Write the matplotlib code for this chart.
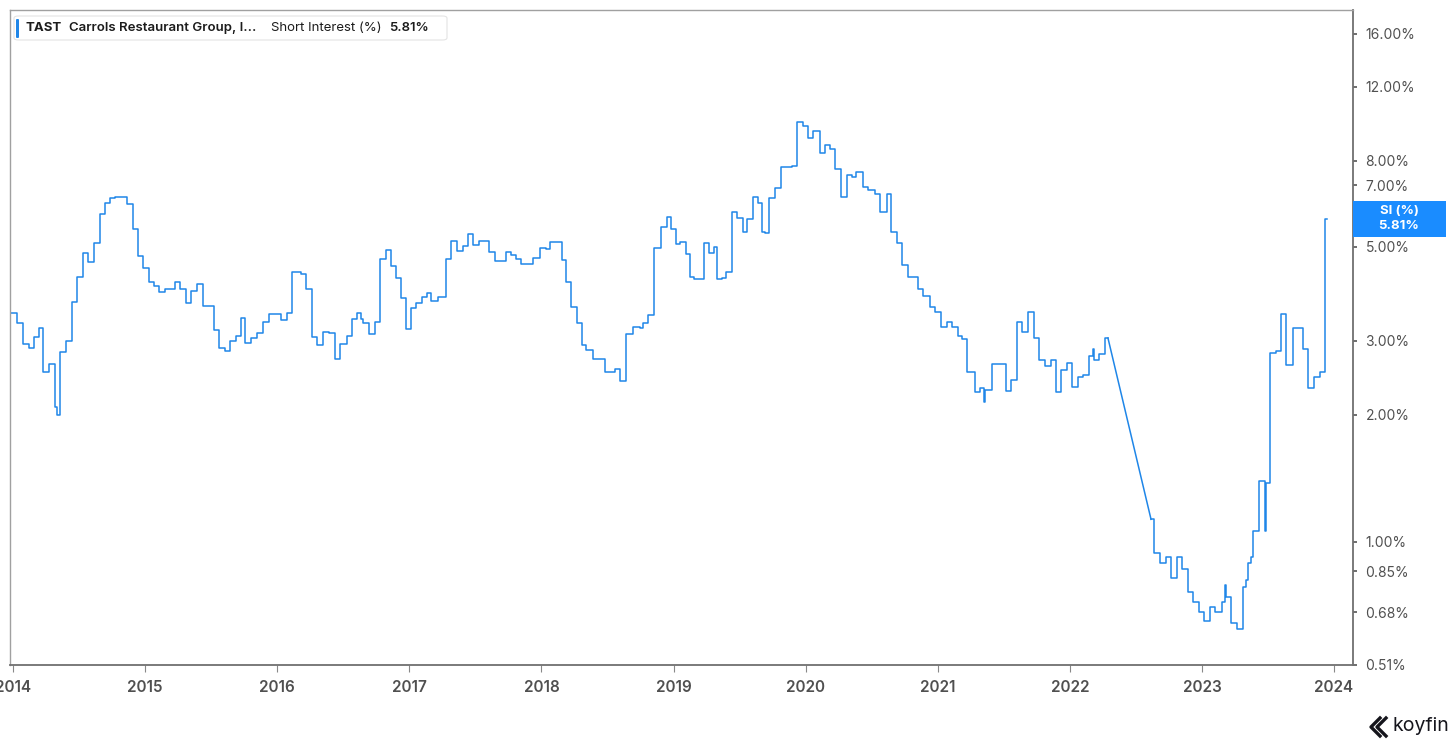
import matplotlib.pyplot as plt
from matplotlib.lines import Line2D
from matplotlib.patches import FancyBboxPatch, Rectangle
from matplotlib.ticker import NullLocator

plt.rcParams['font.family'] = ['Inter', 'DejaVu Sans']

# short interest (% of float); x in decimal years
years_a = [
    2013.985, 2014.030, 2014.076, 2014.121, 2014.159, 2014.197, 2014.227, 2014.273,
    2014.318, 2014.333, 2014.356, 2014.401, 2014.447, 2014.484, 2014.530, 2014.568,
    2014.613, 2014.659, 2014.696, 2014.734, 2014.772, 2014.863, 2014.908, 2014.946,
    2014.984, 2015.030, 2015.067, 2015.105, 2015.151, 2015.226, 2015.264, 2015.310,
    2015.347, 2015.393, 2015.438, 2015.522, 2015.559, 2015.605, 2015.643, 2015.688,
    2015.726, 2015.756, 2015.802, 2015.847, 2015.893, 2015.938, 2016.029, 2016.074,
    2016.112, 2016.180, 2016.218, 2016.263, 2016.301, 2016.347, 2016.392, 2016.438,
    2016.475, 2016.528, 2016.566, 2016.604, 2016.634, 2016.650, 2016.695, 2016.740,
    2016.778, 2016.824, 2016.861, 2016.899, 2016.937, 2016.975, 2017.013, 2017.051,
    2017.096, 2017.134, 2017.164, 2017.217, 2017.278, 2017.316, 2017.361, 2017.407,
    2017.444, 2017.482, 2017.528, 2017.603, 2017.649, 2017.732, 2017.770, 2017.808,
    2017.846, 2017.936, 2017.989, 2018.035, 2018.065, 2018.156, 2018.186, 2018.224,
    2018.269, 2018.307, 2018.338, 2018.391, 2018.481, 2018.527, 2018.557, 2018.595,
    2018.640, 2018.693, 2018.746, 2018.769, 2018.807, 2018.852, 2018.905, 2018.951,
    2018.981, 2019.019, 2019.049, 2019.095, 2019.125, 2019.155, 2019.231, 2019.269,
    2019.307, 2019.329, 2019.367, 2019.397, 2019.443, 2019.481, 2019.526, 2019.556,
    2019.602, 2019.640, 2019.670, 2019.693, 2019.723, 2019.768, 2019.814, 2019.897,
    2019.935, 2019.980, 2020.018, 2020.056, 2020.109, 2020.147, 2020.185, 2020.222,
    2020.268, 2020.313, 2020.351, 2020.382, 2020.435, 2020.472, 2020.525, 2020.563,
    2020.616, 2020.646, 2020.692, 2020.730, 2020.775, 2020.851, 2020.889, 2020.942,
    2020.980, 2021.025, 2021.070, 2021.108, 2021.154, 2021.184, 2021.222, 2021.283,
    2021.320, 2021.350, 2021.358, 2021.411, 2021.517, 2021.555, 2021.600, 2021.638,
    2021.684, 2021.729, 2021.767, 2021.812, 2021.858, 2021.895, 2021.933, 2021.979,
    2022.017, 2022.062, 2022.100, 2022.145, 2022.176, 2022.183, 2022.223, 2022.268,
    2022.289,
]
si_a = [
    3.49, 3.31, 2.95, 2.88, 3.06, 3.22, 2.53, 2.64,
    2.09, 2.00, 2.82, 3.00, 3.71, 4.25, 4.84, 4.61,
    5.11, 5.99, 6.36, 6.54, 6.57, 6.33, 5.52, 4.76,
    4.46, 4.13, 4.04, 3.91, 3.98, 4.13, 3.98, 3.69,
    3.94, 4.09, 3.63, 3.18, 2.88, 2.84, 3.00, 3.08,
    3.40, 2.96, 3.04, 3.13, 3.32, 3.47, 3.36, 3.49,
    4.37, 4.32, 3.98, 3.06, 2.93, 3.15, 3.13, 2.71,
    2.95, 3.08, 3.38, 3.49, 3.38, 3.31, 3.11, 3.32,
    4.69, 4.92, 4.51, 4.22, 3.79, 3.20, 3.59, 3.69,
    3.81, 3.89, 3.73, 3.81, 4.69, 5.17, 4.89, 5.03,
    5.37, 5.06, 5.17, 4.87, 4.63, 4.87, 4.79, 4.69,
    4.56, 4.71, 4.98, 4.95, 5.14, 4.66, 4.13, 3.60,
    3.31, 2.93, 2.85, 2.71, 2.53, 2.52, 2.57, 2.40,
    3.11, 3.23, 3.22, 3.31, 3.45, 4.98, 5.58, 5.89,
    5.52, 5.09, 5.14, 4.81, 4.25, 4.20, 5.11, 4.84,
    5.00, 4.20, 4.22, 4.37, 6.06, 5.86, 5.43, 5.82,
    6.57, 6.36, 5.43, 5.40, 6.54, 6.90, 7.74, 7.78,
    9.90, 9.68, 9.07, 9.42, 8.36, 8.73, 8.54, 7.66,
    6.57, 7.41, 7.33, 7.53, 6.94, 6.83, 6.68, 6.06,
    6.68, 5.43, 5.11, 4.53, 4.25, 3.98, 3.83, 3.60,
    3.51, 3.23, 3.32, 3.23, 3.08, 3.03, 2.53, 2.27,
    2.32, 2.15, 2.29, 2.64, 2.28, 2.42, 3.32, 3.15,
    3.51, 3.04, 2.69, 2.61, 2.70, 2.26, 2.56, 2.66,
    2.33, 2.46, 2.49, 2.76, 2.87, 2.70, 2.79, 3.04,
    3.04,
]
years_b = [
    2022.615, 2022.637, 2022.683, 2022.728, 2022.766, 2022.812, 2022.849, 2022.895,
    2022.933, 2022.978, 2023.016, 2023.061, 2023.099, 2023.152, 2023.175, 2023.182,
    2023.220, 2023.265, 2023.311, 2023.334, 2023.349, 2023.372, 2023.387, 2023.433,
    2023.478, 2023.486, 2023.516, 2023.561, 2023.599, 2023.637, 2023.690, 2023.765,
    2023.803, 2023.849, 2023.894, 2023.932, 2023.947,
]
si_b = [
    1.13, 0.94, 0.89, 0.92, 0.82, 0.92, 0.86, 0.76,
    0.72, 0.68, 0.65, 0.70, 0.68, 0.72, 0.79, 0.74,
    0.64, 0.62, 0.78, 0.81, 0.89, 0.92, 1.06, 1.39,
    1.06, 1.38, 2.81, 2.84, 3.47, 2.63, 3.22, 2.87,
    2.31, 2.46, 2.52, 5.81, 5.81,
]

year_ticks = [2014, 2015, 2016, 2017, 2018, 2019, 2020, 2021, 2022, 2023, 2024]
pct_ticks = [0.51, 0.68, 0.85, 1.00, 2.00, 3.00, 5.00, 7.00, 8.00, 12.00, 16.00]

BLUE = '#1f86e8'
W, H = 1456, 752


def fx(px):
    return px / W


def fy(py):
    return 1 - py / H


fig = plt.figure(figsize=(W / 100, H / 100), dpi=100)
ax = fig.add_axes([fx(10), fy(665), fx(1353 - 10), (665 - 10) / H])

ax.plot(years_a, si_a, drawstyle='steps-post', color=BLUE, lw=1.1)
# data gap in mid 2022 is drawn as a straight segment
ax.plot([years_a[-1], years_b[0]], [si_a[-1], si_b[0]], color=BLUE, lw=1.1)
ax.plot(years_b, si_b, drawstyle='steps-post', color=BLUE, lw=1.1)

ax.set_yscale('log')
ax.set_xlim(2013.977, 2024.144)
ax.set_ylim(0.511, 18.24)

ax.yaxis.tick_right()
ax.yaxis.set_minor_locator(NullLocator())
ax.set_yticks(pct_ticks)
ax.set_yticklabels([f'{v:.2f}%' for v in pct_ticks])
ax.set_xticks(year_ticks)
ax.set_xticklabels([str(y) for y in year_ticks], fontweight='semibold')
ax.tick_params(axis='y', length=3, width=1.2, color='#555555', pad=6,
               labelsize=10, labelcolor='#505050')
ax.tick_params(axis='x', length=5, width=0.8, color='#888888', pad=6,
               labelsize=11, labelcolor='#505050')

for side in ['left', 'top']:
    ax.spines[side].set_color('#a0a0a0')
    ax.spines[side].set_linewidth(1.0)
for side in ['right', 'bottom']:
    ax.spines[side].set_color('#707070')
    ax.spines[side].set_linewidth(1.3)

# legend strip, top left
fig.patches.append(FancyBboxPatch((fx(14), fy(40)), fx(433), 24 / H,
                                  boxstyle='round,pad=0,rounding_size=0.003',
                                  transform=fig.transFigure, facecolor='white',
                                  edgecolor='#e4e4e4', lw=0.8))
fig.patches.append(FancyBboxPatch((fx(16), fy(38)), fx(3), 19 / H,
                                  boxstyle='round,pad=0,rounding_size=0.001',
                                  transform=fig.transFigure, facecolor=BLUE,
                                  edgecolor='none'))
fig.text(fx(25), fy(28), 'TAST', fontsize=9.5, fontweight='bold',
         color='#1c1c1c', va='center')
fig.text(fx(69), fy(28), 'Carrols Restaurant Group, I...', fontsize=9.5,
         fontweight='semibold', color='#1c1c1c', va='center')
fig.text(fx(271), fy(28), 'Short Interest (%)', fontsize=9.5,
         color='#1c1c1c', va='center')
fig.text(fx(389), fy(28), '5.81%', fontsize=9.5, fontweight='semibold',
         color='#1c1c1c', va='center')

# last value tag on the right axis
fig.patches.append(Rectangle((fx(1353), fy(237)), fx(93), 36 / H,
                             transform=fig.transFigure, facecolor='#1a8cff',
                             edgecolor='none'))
fig.text(fx(1399), fy(211), 'SI (%)', fontsize=9.5, fontweight='bold',
         color='white', ha='center', va='center')
fig.text(fx(1399), fy(226), '5.81%', fontsize=9.5, fontweight='bold',
         color='white', ha='center', va='center')

# koyfin mark
for dx in (0, 6):
    fig.lines.append(Line2D([fx(1380 + dx), fx(1371 + dx), fx(1380 + dx)],
                            [fy(718), fy(727), fy(736)],
                            transform=fig.transFigure, color='#15151c', lw=2.4))
fig.text(fx(1393), fy(726), 'koyfin', fontsize=14, color='#15151c', va='center')

fig.savefig('out.png', dpi=100)
